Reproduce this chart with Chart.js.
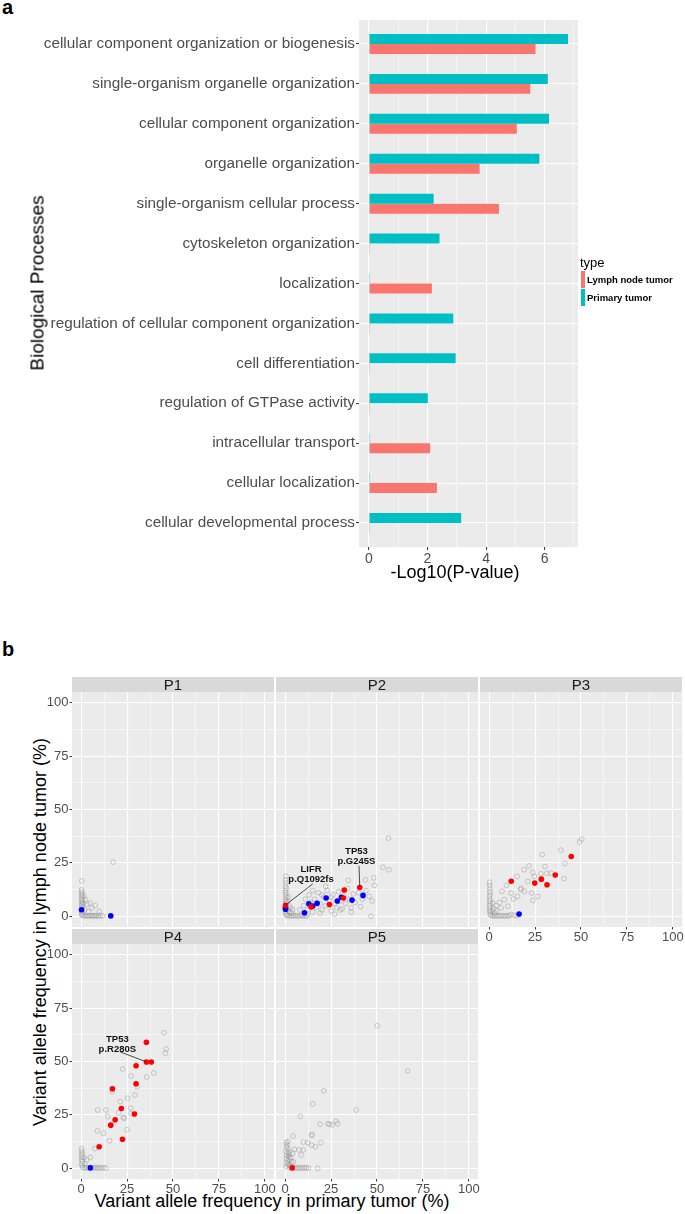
<!DOCTYPE html>
<html>
<head>
<meta charset="utf-8">
<script src="https://cdn.jsdelivr.net/npm/chart.js@4.4.1/dist/chart.umd.min.js"></script>
<style>
body{margin:0;background:#fff;width:685px;height:1214px;position:relative;overflow:hidden;font-family:"Liberation Sans",Arial,sans-serif}
.box{position:absolute}
.txt{position:absolute;white-space:nowrap;line-height:1;color:#000}
.mid{transform:translate(-50%,-50%)}
.rot{transform:translate(-50%,-50%) rotate(-90deg)}
.strip{position:absolute;background:#d9d9d9;color:#1a1a1a;font-size:15px;text-align:center;line-height:15px;height:15px}
.key{position:absolute;width:4px;height:17px}
.lab{position:absolute;font-size:9.5px;font-weight:bold;line-height:10px;white-space:nowrap}
</style>
</head>
<body>
<div class="txt" style="left:2px;top:-3px;font-size:20px;font-weight:bold">a</div>
<div class="txt" style="left:2px;top:639px;font-size:20px;font-weight:bold">b</div>

<div class="box" style="left:0;top:0;width:685px;height:600px"><canvas id="barCanvas"></canvas></div>
<div class="txt rot" style="left:37px;top:283px;font-size:19px">Biological Processes</div>
<div class="txt mid" style="left:455px;top:572px;font-size:18px">-Log10(P-value)</div>

<div class="txt" style="left:580px;top:256px;font-size:13px">type</div>
<div class="key" style="left:581px;top:271px;background:#F8766D"></div>
<div class="key" style="left:581px;top:289px;background:#00BFC4"></div>
<div class="lab" style="left:587px;top:275px">Lymph node tumor</div>
<div class="lab" style="left:587px;top:293px">Primary tumor</div>

<div class="txt rot" style="left:40px;top:932px;font-size:18px">Variant allele frequency in lymph node tumor (%)</div>
<div class="txt mid" style="left:272px;top:1201px;font-size:18px">Variant allele frequency in primary tumor (%)</div>

<script>
// panel a
var processes = ["cellular component organization or biogenesis", "single-organism organelle organization",
  "cellular component organization", "organelle organization", "single-organism cellular process",
  "cytoskeleton organization", "localization", "regulation of cellular component organization",
  "cell differentiation", "regulation of GTPase activity", "intracellular transport",
  "cellular localization", "cellular developmental process"]
var primaryVals = [6.8, 6.11, 6.15, 5.82, 2.21, 2.41, 0.03, 2.88, 2.96, 2.01, 0.03, 0.03, 3.15]
var lymphVals = [5.69, 5.51, 5.05, 3.78, 4.44, 0.03, 2.15, 0.03, 0.03, 0.03, 2.09, 2.32, 0.03]

// panel b, [primary VAF, lymph node VAF]
var p1Grey = [[0.3,16.6],[0.2,12.4],[0.4,11.5],[0.3,10.6],[0.5,9.8],[0.2,9],[0.4,8.2],[0.3,7.4],[0.6,6.6],[0.2,5.8],
  [0.5,5],[0.3,4.2],[0.4,3.4],[0.2,2.6],[0.5,1.8],[0.3,1],[0.6,0.4],[1.4,0.2],[2.2,0.4],[3,0.1],[3.8,0.3],[4.6,0.2],
  [5.4,0.4],[6.2,0.1],[7,0.3],[7.8,0.2],[8.6,0.4],[9.4,0.1],[10.4,0.3],[11.6,0.2],[4.9,6.2],[7.6,5],[9.9,2.3],
  [2.2,7.8],[5.8,3.9],[1.5,9.5],[3.2,5.6],[2,3],[4,2.2],[1.2,6],[17.4,25.4]]
var p1Red = []
var p1Blue = [[0.2,3.1],[16.1,0.2]]

var p2Grey = [[0.4,18.8],[0.2,17],[0.4,15.6],[0.3,14.2],[0.5,13],[0.2,12],[0.4,11],[0.3,10],[0.6,9],[0.2,8],[0.4,7],
  [0.5,6],[0.3,4.6],[0.4,3],[0.2,2],[0.5,1],[0.8,0.4],[1.5,0.2],[2.5,0.3],[3.5,0.1],[4.5,0.4],[5.5,0.2],[6.5,0.3],
  [7.5,0.1],[8.5,0.4],[9.5,0.2],[10.5,0.3],[11.5,0.1],[1.5,3],[2,5],[1.2,7],[2.5,2],[3,4],[1.8,9],[3.5,1.5],[4,3],
  [8,3],[10,5],[11,8],[12,3],[13,10],[14,6.5],[15,2],[16,8],[17,4],[18,11],[19,6],[20,3],[21,9],[22,5],[23,12],
  [24,7.5],[25,2.5],[26,10],[27,6],[28,4],[29,11.5],[30,7],[31,3.5],[32,9.5],[33,6],[34,13],[35,8],[36,4],[37,10.5],
  [38,6.5],[40,11],[41,4.5],[42,8],[44,12],[45.8,9.3],[47.3,7.2],[46.7,0],[48.6,14.5],[48.2,18],[43.7,17.1],
  [34.4,16.8],[53.3,23],[56.5,21.8],[56.3,36.6],[12,1],[19,1.5],[27,1],[36,2],[22,14],[15,12],[25,9],[20,10],[30,3]]
var p2Red = [[0.2,5.1],[14.1,4.4],[24.1,5.5],[31.7,8.6],[32.2,12.3],[40.6,13.5]]
var p2Blue = [[0.2,3.3],[0.1,4],[10.5,1.7],[12.9,5.9],[15,4.8],[17.4,6.1],[22.3,8.6],[28.4,7.2],[30.6,8.9],[36.4,7.6],[42.4,9.8]]

var p3Grey = [[0.3,15.9],[0.2,14.5],[0.4,13],[0.3,11.6],[0.5,10.4],[0.2,9.2],[0.4,8],[0.3,7],[0.6,6],[0.2,5],[0.5,4],
  [0.3,3],[0.4,2],[0.6,1],[1,0.4],[2,0.2],[3,0.4],[4,0.1],[5,0.3],[6,0.2],[7,0.4],[8,0.1],[9,0.3],[10,0.2],[11,0.4],
  [11.9,0.8],[13.7,0.5],[15.2,0.2],[1.5,2.5],[2.5,3.5],[3,1.5],[4,2.5],[50.4,36.1],[49.2,34.8],[39,31],[28.9,28.9],
  [41.2,24.7],[40.8,17.6],[21.7,23.6],[19.1,21.8],[30.4,23.3],[31.4,20.2],[28.2,19.9],[23.8,20.5],[24.6,18.7],
  [21,16.3],[17.3,13.2],[17.2,12.5],[19.2,11.7],[15.2,18.7],[9.4,14.5],[7,11.7],[11.9,10.9],[13.2,8.1],[8.3,7.8],
  [15.5,9.3],[23.1,10.9],[26.4,9.3],[23.8,7.5],[33.6,20.2],[5.6,6.5],[3.8,5],[2,6.2],[10.1,4.7],[6.5,3.9]]
var p3Red = [[12,16.4],[24.8,15.6],[28.4,17.4],[31.5,14.8],[36,19.3],[44.7,28]]
var p3Blue = [[16.3,1.1]]

var p4Grey = [[0.3,9.2],[0.2,8.2],[0.5,7.2],[0.3,6.2],[0.4,5.2],[0.2,4.2],[0.6,3.2],[0.3,2.2],[0.5,1.2],[1,0.3],
  [2,0.2],[3,0.4],[4,0.1],[6,0.3],[7,0.2],[8,0.4],[9,0.1],[10,0.3],[11,0.2],[12,0.4],[13.5,0.1],[2,2],[3,4],[1.5,5],
  [45,63.5],[46.3,55.9],[45.8,53.8],[39.5,44.6],[35.7,42.7],[22.5,46.5],[27.2,43.2],[30.4,38.2],[16.9,35.9],
  [29.2,34.3],[25.2,32.8],[21.2,31.2],[9,27.3],[13.5,27.3],[27,28.2],[20.4,26],[14.4,24.2],[23.4,23.4],[22.9,23.9],
  [8.8,17.5],[12.1,16.4],[25,18.1],[15.5,12.9],[7.4,9.2],[5,5.1],[27.2,25.7]]
var p4Red = [[35.5,59],[35.5,49.8],[38.2,49.8],[29.9,48],[29.9,39.6],[17,37.2],[21.9,28],[29,25.4],[18.5,22.7],
  [16.1,20.2],[22.5,13.6],[9.8,10.1]]
var p4Blue = [[5,0.2]]

var p5Grey = [[0.5,12],[1,11],[0.8,10],[1.5,9.2],[0.5,8],[2,7.5],[1,7],[2.5,6.5],[0.8,6],[1.8,5.5],[3,5],[0.6,4.5],
  [2.2,4],[1.2,3.5],[3.5,3],[0.7,2.5],[2,2],[1.5,1.5],[3,1],[0.5,0.8],[2.5,0.4],[4.5,0.2],[5.5,0.3],[6.5,0.1],
  [7.5,0.3],[8.5,0.2],[9.5,0.1],[10.5,0.3],[11.5,0.2],[12.7,0.1],[17.7,0],[50.1,66.8],[66.7,45.6],[21,36.3],
  [15,30.2],[38.7,27.3],[8.3,24.3],[19,20.6],[23.2,20.9],[24.1,20.6],[25.5,20.3],[27.7,22.1],[28.6,20.9],
  [14.6,15.9],[14.4,15.3],[4.3,15.1],[9.9,12.3],[12.3,12],[19.4,12],[14.3,10.9],[16.5,10.1],[1.4,12.5],[7.6,8.6],
  [9.8,8.6],[8.7,6.2],[5,8.9],[4,7],[4.5,3]]
var p5Red = [[3.8,0.2]]
var p5Blue = []

// gene labels: text, where the text sits, where the leader line starts and ends
var p2Notes = [
  {lines: ["LIFR", "p.Q1092fs"], x: 14.1, ys: [21.8, 17.1], from: [15, 15.2], to: [0.4, 5.4]},
  {lines: ["TP53", "p.G245S"], x: 38.8, ys: [30.5, 25.8], from: [40.2, 23.6], to: [40.6, 14]}
]
var p4Notes = [
  {lines: ["TP53", "p.R280S"], x: 19.7, ys: [60.5, 55.8], from: [21.2, 54.5], to: [35, 50]}
]

Chart.defaults.font.family = '"Liberation Sans", Arial, sans-serif'

const bgPlugin = {
  id: 'panelBg',
  beforeDraw(chart) {
    const a = chart.chartArea, ctx = chart.ctx
    ctx.save()
    ctx.fillStyle = '#ebebeb'
    ctx.fillRect(a.left, a.top, a.right - a.left, a.bottom - a.top)
    ctx.restore()
  }
}

// fixed axis sizes so the panels line up
const fixSize = (w, h) => (scale) => {
  if (w !== undefined) scale.width = w
  if (h !== undefined) scale.height = h
  scale.paddingTop = 0; scale.paddingBottom = 0
  scale.paddingLeft = 0; scale.paddingRight = 0
}

new Chart('barCanvas', {
  type: 'bar',
  data: {
    datasets: [{
      label: 'Primary tumor',
      data: primaryVals.map((v, i) => ({x: v, y: i + 1})),
      backgroundColor: '#00BFC4',
      categoryPercentage: 0.5, barPercentage: 1
    }, {
      label: 'Lymph node tumor',
      data: lymphVals.map((v, i) => ({x: v, y: i + 1})),
      backgroundColor: '#F8766D',
      categoryPercentage: 0.5, barPercentage: 1
    }]
  },
  options: {
    indexAxis: 'y',
    animation: false,
    responsive: true,
    maintainAspectRatio: false,
    layout: {padding: {top: 20, right: 107, left: 0, bottom: 0}},
    plugins: {legend: {display: false}, tooltip: {enabled: false}},
    scales: {
      x: {
        type: 'linear', min: -0.34, max: 7.14,
        afterFit: fixSize(undefined, 53),
        border: {display: false},
        grid: {
          color: '#fff',
          lineWidth: c => c.tick.value % 2 === 0 ? 1.1 : 0.5,
          tickLength: 3, tickWidth: 1,
          tickColor: c => c.tick.value % 2 === 0 ? '#333' : 'rgba(0,0,0,0)'
        },
        ticks: {
          stepSize: 1, includeBounds: false, autoSkip: false, maxRotation: 0, padding: 1,
          color: '#4d4d4d', font: {size: 14},
          callback: v => v % 2 === 0 ? String(v) : ''
        }
      },
      y: {
        type: 'linear', reverse: true, min: 0.4, max: 13.6, offset: false,
        afterFit: fixSize(359),
        border: {display: false},
        grid: {color: '#fff', lineWidth: 1.1, offset: false, tickLength: 3, tickWidth: 1, tickColor: '#333'},
        ticks: {
          stepSize: 1, includeBounds: false, autoSkip: false, padding: 1,
          color: '#4d4d4d', font: {size: 15.3},
          callback: v => processes[Math.round(v) - 1]
        }
      }
    }
  },
  plugins: [bgPlugin]
})

const notesPlugin = (notes) => ({
  id: 'geneNotes',
  afterDatasetsDraw(chart) {
    const ctx = chart.ctx, xs = chart.scales.x, ys = chart.scales.y
    ctx.save()
    ctx.strokeStyle = '#222'
    ctx.lineWidth = 0.8
    ctx.fillStyle = '#111'
    ctx.font = 'bold 9.5px "Liberation Sans", Arial'
    ctx.textAlign = 'center'
    ctx.textBaseline = 'middle'
    for (var n of notes) {
      ctx.beginPath()
      ctx.moveTo(xs.getPixelForValue(n.from[0]), ys.getPixelForValue(n.from[1]))
      ctx.lineTo(xs.getPixelForValue(n.to[0]), ys.getPixelForValue(n.to[1]))
      ctx.stroke()
      n.lines.forEach((t, i) => ctx.fillText(t, xs.getPixelForValue(n.x), ys.getPixelForValue(n.ys[i])))
    }
    ctx.restore()
  }
})

const M = 12, YW = 72, XH = 16
const pts = arr => arr.map(p => ({x: p[0], y: p[1]}))

function facet(name, left, top, w, h, showY, showX, grey, red, blue, notes) {
  const axW = showY ? YW : 0, axH = showX ? XH : 0
  const wrap = document.createElement('div')
  wrap.className = 'box'
  wrap.style.left = (left - axW - M) + 'px'
  wrap.style.top = (top - M) + 'px'
  wrap.style.width = (w + axW + 2 * M) + 'px'
  wrap.style.height = (h + axH + 2 * M) + 'px'
  const cv = document.createElement('canvas')
  wrap.appendChild(cv)
  document.body.appendChild(wrap)

  const strip = document.createElement('div')
  strip.className = 'strip'
  strip.style.left = left + 'px'
  strip.style.top = (top - 15) + 'px'
  strip.style.width = w + 'px'
  strip.textContent = name
  document.body.appendChild(strip)

  const major = v => v % 25 === 0
  new Chart(cv, {
    type: 'scatter',
    data: {
      datasets: [
        {data: pts(red), pointRadius: 2.8, pointBackgroundColor: '#ff0000', pointBorderWidth: 0},
        {data: pts(blue), pointRadius: 2.8, pointBackgroundColor: '#0000ff', pointBorderWidth: 0},
        {data: pts(grey), pointRadius: 2.4, pointBackgroundColor: 'rgba(0,0,0,0)',
         pointBorderColor: 'rgba(140,140,140,0.6)', pointBorderWidth: 0.7}
      ]
    },
    options: {
      animation: false,
      responsive: true,
      maintainAspectRatio: false,
      layout: {padding: M},
      plugins: {legend: {display: false}, tooltip: {enabled: false}},
      scales: {
        x: {
          type: 'linear', min: -5, max: 105,
          afterFit: fixSize(undefined, axH),
          border: {display: false},
          grid: {
            color: '#fff', drawTicks: showX, tickLength: 2.5, tickWidth: 1,
            lineWidth: c => major(c.tick.value) ? 1.1 : 0.5,
            tickColor: c => major(c.tick.value) ? '#333' : 'rgba(0,0,0,0)'
          },
          ticks: {
            display: showX, stepSize: 12.5, includeBounds: false, autoSkip: false, maxRotation: 0, padding: 0,
            color: '#4d4d4d', font: {size: 13},
            callback: v => major(v) ? String(v) : ''
          }
        },
        y: {
          type: 'linear', min: -5, max: 105,
          afterFit: fixSize(axW),
          border: {display: false},
          grid: {
            color: '#fff', drawTicks: showY, tickLength: 2.5, tickWidth: 1,
            lineWidth: c => major(c.tick.value) ? 1.1 : 0.5,
            tickColor: c => major(c.tick.value) ? '#333' : 'rgba(0,0,0,0)'
          },
          ticks: {
            display: showY, stepSize: 12.5, includeBounds: false, autoSkip: false, padding: 1,
            color: '#4d4d4d', font: {size: 13},
            callback: v => major(v) ? String(v) : ''
          }
        }
      }
    },
    plugins: [bgPlugin, notesPlugin(notes || [])]
  })
}

facet('P1', 72, 692, 202, 235, true, false, p1Grey, p1Red, p1Blue)
facet('P2', 276, 692, 202, 235, false, false, p2Grey, p2Red, p2Blue, p2Notes)
facet('P3', 480, 692, 202, 235, false, true, p3Grey, p3Red, p3Blue)
facet('P4', 72, 944, 202, 235, true, true, p4Grey, p4Red, p4Blue, p4Notes)
facet('P5', 276, 944, 202, 235, false, true, p5Grey, p5Red, p5Blue)
</script>
</body>
</html>
